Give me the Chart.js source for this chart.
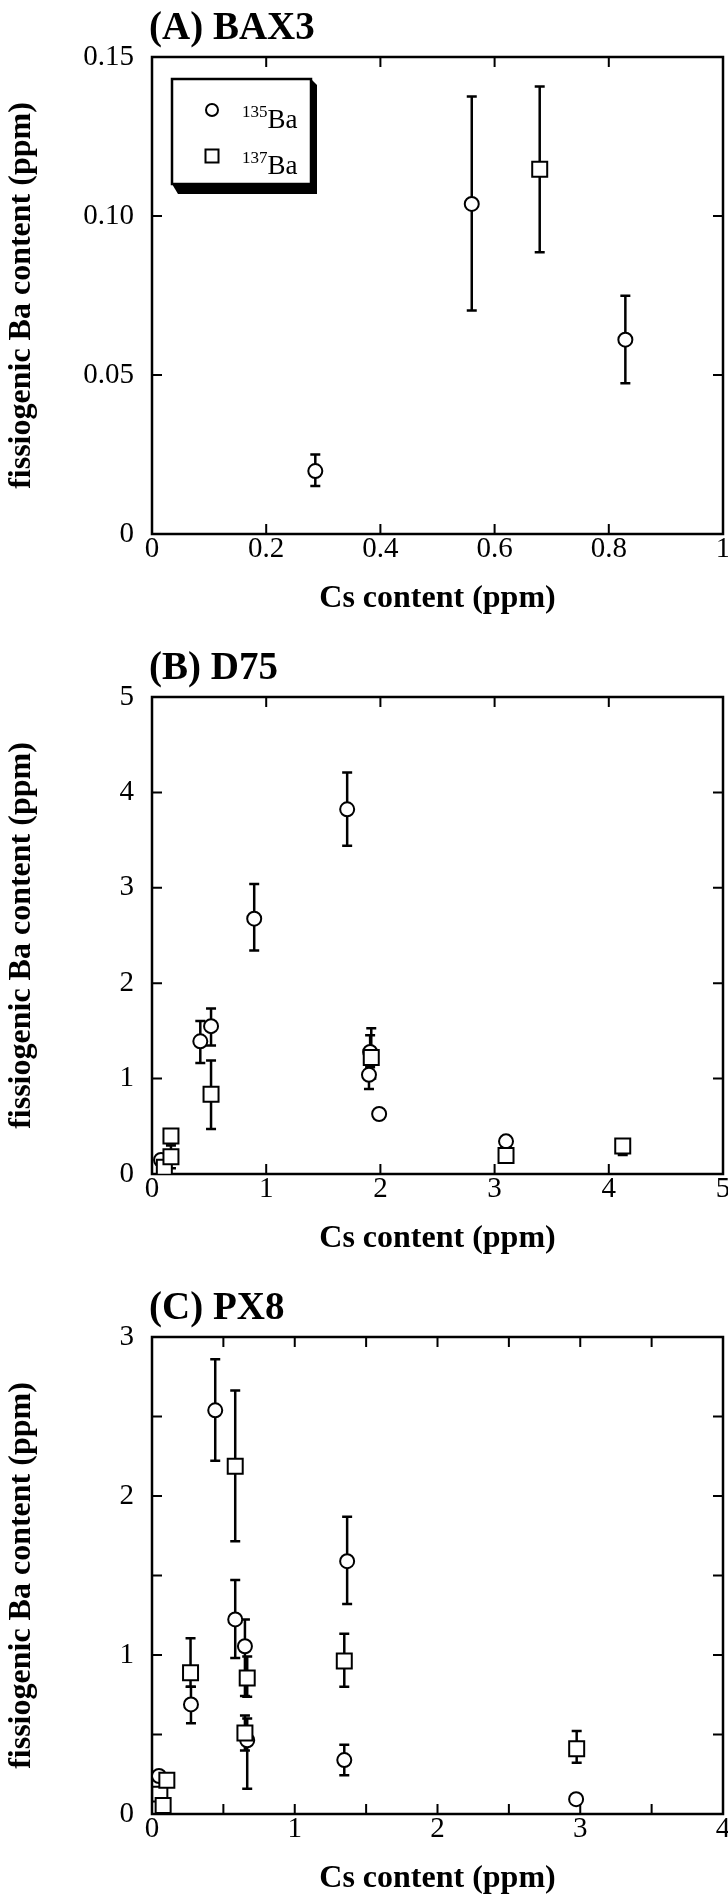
<!DOCTYPE html>
<html>
<head>
<meta charset="utf-8">
<title>fissiogenic Ba vs Cs content</title>
<script src="https://cdn.jsdelivr.net/npm/chart.js@4.4.1/dist/chart.umd.min.js"></script>
<style>
  html, body { margin: 0; padding: 0; background: #fff; overflow: hidden; }
  .panel { position: absolute; left: 0; width: 728px; height: 640px; }
  .panel canvas { display: block; }
</style>
</head>
<body>
<div class="panel" style="top:0px"><canvas id="chartA" width="728" height="640"></canvas></div>
<div class="panel" style="top:640px"><canvas id="chartB" width="728" height="640"></canvas></div>
<div class="panel" style="top:1280px"><canvas id="chartC" width="728" height="640"></canvas></div>
<script>
// ---- (A) BAX3 ----
const bax3Cs135 = [0.286, 0.560, 0.829];
const bax3Ba135 = [0.0198, 0.1038, 0.0611];
const bax3Lo135 = [0.0151, 0.0703, 0.0474];
const bax3Hi135 = [0.0250, 0.1376, 0.0749];
const bax3Cs137 = [0.679];
const bax3Ba137 = [0.1147];
const bax3Lo137 = [0.0886];
const bax3Hi137 = [0.1407];
const bax3XTicks = [0, 0.2, 0.4, 0.6, 0.8, 1];
const bax3XLabels = ['0', '0.2', '0.4', '0.6', '0.8', '1'];
const bax3YTicks = [0, 0.05, 0.10, 0.15];
const bax3YLabels = ['0', '0.05', '0.10', '0.15'];

// ---- (B) D75 ----
const d75Cs135 = [0.079, 0.423, 0.517, 0.895, 1.709, 1.900, 1.910, 1.989, 3.10];
const d75Ba135 = [0.147, 1.391, 1.550, 2.676, 3.823, 1.040, 1.280, 0.629, 0.342];
const d75Lo135 = [null, 1.164, 1.348, 2.342, 3.442, 0.890, 1.120, 0.590, 0.300];
const d75Hi135 = [null, 1.605, 1.734, 3.039, 4.208, 1.180, 1.455, 0.680, 0.380];
const d75Cs137 = [0.108, 0.166, 0.166, 0.517, 1.920, 3.10, 4.122];
const d75Ba137 = [0.070, 0.180, 0.398, 0.835, 1.220, 0.193, 0.293];
const d75Lo137 = [null, 0.060, 0.320, 0.471, 1.000, null, 0.200];
const d75Hi137 = [null, 0.300, 0.470, 1.190, 1.528, null, 0.360];
const d75XTicks = [0, 1, 2, 3, 4, 5];
const d75XLabels = ['0', '1', '2', '3', '4', '5'];
const d75YTicks = [0, 1, 2, 3, 4, 5];
const d75YLabels = ['0', '1', '2', '3', '4', '5'];

// ---- (C) PX8 ----
const px8Cs135 = [0.049, 0.273, 0.443, 0.583, 0.651, 0.667, 1.367, 1.347, 2.971];
const px8Ba135 = [0.239, 0.689, 2.539, 1.224, 1.055, 0.464, 1.590, 0.339, 0.093];
const px8Lo135 = [null, 0.570, 2.221, 0.981, 0.742, 0.159, 1.320, 0.244, null];
const px8Hi135 = [null, 0.800, 2.860, 1.471, 1.224, 0.600, 1.869, 0.435, null];
const px8Cs137 = [0.055, 0.078, 0.104, 0.270, 0.583, 0.667, 0.651, 1.347, 2.975];
const px8Ba137 = [0.125, 0.053, 0.212, 0.888, 2.187, 0.856, 0.509, 0.962, 0.411];
const px8Lo137 = [null, null, null, 0.800, 1.715, 0.737, 0.400, 0.800, 0.323];
const px8Hi137 = [null, null, null, 1.105, 2.664, 0.990, 0.620, 1.134, 0.522];
const px8XTicks = [0, 0.5, 1, 1.5, 2, 2.5, 3, 3.5, 4];
const px8XLabels = ['0', '', '1', '', '2', '', '3', '', '4'];
const px8YTicks = [0, 0.5, 1, 1.5, 2, 2.5, 3];
const px8YLabels = ['0', '', '1', '', '2', '', '3'];

const SERIF = '"Liberation Serif", "Times New Roman", Times, serif';

// frame, inward ticks, error bars, panel title and the boxed legend
const paperPlugin = {
    id: 'paper',
    beforeDatasetsDraw(chart, args, opts) {
        const ctx = chart.ctx;
        const x = chart.scales.x, y = chart.scales.y;
        ctx.save();
        ctx.strokeStyle = '#000';
        ctx.lineWidth = 2.5;
        ctx.lineCap = 'butt';
        chart.data.datasets.forEach(ds => {
            ds.data.forEach((p, i) => {
                const lo = ds.errLo[i], hi = ds.errHi[i];
                if (lo == null || hi == null) return;
                const px = x.getPixelForValue(p.x);
                const py1 = y.getPixelForValue(lo);
                const py2 = y.getPixelForValue(hi);
                ctx.beginPath();
                ctx.moveTo(px, py1); ctx.lineTo(px, py2);
                ctx.moveTo(px - 5, py1); ctx.lineTo(px + 5, py1);
                ctx.moveTo(px - 5, py2); ctx.lineTo(px + 5, py2);
                ctx.stroke();
            });
        });

        // frame + ticks on all four sides
        const a = chart.chartArea;
        ctx.lineWidth = 2.5;
        ctx.strokeRect(a.left, a.top, a.right - a.left, a.bottom - a.top);
        ctx.lineWidth = 2;
        ctx.beginPath();
        x.ticks.forEach(t => {
            if (t.value <= x.min || t.value >= x.max) return;
            const px = x.getPixelForValue(t.value);
            ctx.moveTo(px, a.bottom); ctx.lineTo(px, a.bottom - 10);
            ctx.moveTo(px, a.top); ctx.lineTo(px, a.top + 10);
        });
        y.ticks.forEach(t => {
            if (t.value <= y.min || t.value >= y.max) return;
            const py = y.getPixelForValue(t.value);
            ctx.moveTo(a.left, py); ctx.lineTo(a.left + 10, py);
            ctx.moveTo(a.right, py); ctx.lineTo(a.right - 10, py);
        });
        ctx.stroke();
        ctx.restore();
    },
    afterDraw(chart, args, opts) {
        const ctx = chart.ctx;
        const a = chart.chartArea;
        ctx.save();
        ctx.fillStyle = '#000';
        ctx.textBaseline = 'alphabetic';
        ctx.textAlign = 'left';
        ctx.font = 'bold 39px ' + SERIF;
        ctx.fillText(opts.title, a.left - 3, opts.titleY);

        if (opts.legend) {
            const x0 = a.left + 20, y0 = a.top + 22, x1 = a.left + 159, y1 = a.top + 127;
            // black extruded shadow
            ctx.beginPath();
            ctx.moveTo(x1, y0);
            ctx.lineTo(x1 + 6, y0 + 6);
            ctx.lineTo(x1 + 6, y1 + 10);
            ctx.lineTo(x0 + 6, y1 + 10);
            ctx.lineTo(x0, y1);
            ctx.closePath();
            ctx.fill();
            ctx.fillStyle = '#fff';
            ctx.fillRect(x0, y0, x1 - x0, y1 - y0);
            ctx.strokeStyle = '#000';
            ctx.lineWidth = 2.5;
            ctx.strokeRect(x0, y0, x1 - x0, y1 - y0);

            ctx.lineWidth = 2;
            ctx.fillStyle = '#000';
            opts.legend.forEach((item, i) => {
                const cy = y0 + 31 + i * 46;
                const mx = x0 + 40;
                ctx.beginPath();
                if (item.marker === 'circle') {
                    ctx.arc(mx, cy, 6, 0, Math.PI * 2);
                } else {
                    ctx.rect(mx - 6.5, cy - 6.5, 13, 13);
                }
                ctx.stroke();
                ctx.font = '17px ' + SERIF;
                ctx.fillText(item.sup, x0 + 70, cy + 7);
                const w = ctx.measureText(item.sup).width;
                ctx.font = '27px ' + SERIF;
                ctx.fillText(item.base, x0 + 70 + w, cy + 18);
            });
        }
        ctx.restore();
    }
};

function makePanel(id, cfg) {
    const tickFont = { family: SERIF, size: 29, lineHeight: 1 };
    const titleFont = { family: SERIF, size: 32, weight: 'bold', lineHeight: 1.2 };
    const pts = (xs, ys) => xs.map((v, i) => ({ x: v, y: ys[i] }));

    return new Chart(document.getElementById(id), {
        type: 'scatter',
        data: {
            datasets: [{
                label: '137Ba',
                data: pts(cfg.cs137, cfg.ba137),
                errLo: cfg.lo137,
                errHi: cfg.hi137,
                pointStyle: 'rect',
                pointRadius: 10.6,
                borderWidth: 2,
                borderColor: '#000',
                backgroundColor: '#fff',
                order: 0
            }, {
                label: '135Ba',
                data: pts(cfg.cs135, cfg.ba135),
                errLo: cfg.lo135,
                errHi: cfg.hi135,
                pointStyle: 'circle',
                pointRadius: 7,
                borderWidth: 2,
                borderColor: '#000',
                backgroundColor: '#fff',
                order: 1
            }]
        },
        options: {
            responsive: false,
            animation: false,
            devicePixelRatio: 1,
            events: [],
            layout: { autoPadding: false, padding: { top: 57, right: 5, bottom: 0, left: 0 } },
            plugins: {
                legend: { display: false },
                tooltip: { enabled: false },
                paper: { title: cfg.title, titleY: cfg.titleY, legend: cfg.legend }
            },
            scales: {
                x: {
                    type: 'linear',
                    min: cfg.xTicks[0],
                    max: cfg.xTicks[cfg.xTicks.length - 1],
                    afterBuildTicks: s => { s.ticks = cfg.xTicks.map(v => ({ value: v })); },
                    afterFit: s => { s.height = 106; s.paddingLeft = 0; s.paddingRight = 0; },
                    ticks: {
                        autoSkip: false,
                        maxRotation: 0,
                        padding: 1,
                        color: '#000',
                        font: tickFont,
                        callback: (v, i) => cfg.xLabels[i]
                    },
                    grid: { display: false, drawTicks: false },
                    border: { display: false },
                    title: {
                        display: true,
                        text: 'Cs content (ppm)',
                        color: '#000',
                        font: titleFont,
                        padding: { top: 0, bottom: 22 }
                    }
                },
                y: {
                    type: 'linear',
                    min: cfg.yTicks[0],
                    max: cfg.yTicks[cfg.yTicks.length - 1],
                    afterBuildTicks: s => { s.ticks = cfg.yTicks.map(v => ({ value: v })); },
                    afterFit: s => { s.width = 152; s.paddingTop = 0; s.paddingBottom = 0; },
                    ticks: {
                        autoSkip: false,
                        padding: 18,
                        color: '#000',
                        font: tickFont,
                        callback: (v, i) => cfg.yLabels[i]
                    },
                    grid: { display: false, drawTicks: false },
                    border: { display: false },
                    title: {
                        display: true,
                        text: 'fissiogenic Ba content (ppm)',
                        color: '#000',
                        font: titleFont,
                        padding: { top: 3, bottom: 0 }
                    }
                }
            }
        },
        plugins: [paperPlugin]
    });
}

makePanel('chartA', {
    title: '(A) BAX3', titleY: 39,
    cs135: bax3Cs135, ba135: bax3Ba135, lo135: bax3Lo135, hi135: bax3Hi135,
    cs137: bax3Cs137, ba137: bax3Ba137, lo137: bax3Lo137, hi137: bax3Hi137,
    xTicks: bax3XTicks, xLabels: bax3XLabels, yTicks: bax3YTicks, yLabels: bax3YLabels,
    legend: [
        { marker: 'circle', sup: '135', base: 'Ba' },
        { marker: 'rect', sup: '137', base: 'Ba' }
    ]
});

makePanel('chartB', {
    title: '(B) D75', titleY: 39,
    cs135: d75Cs135, ba135: d75Ba135, lo135: d75Lo135, hi135: d75Hi135,
    cs137: d75Cs137, ba137: d75Ba137, lo137: d75Lo137, hi137: d75Hi137,
    xTicks: d75XTicks, xLabels: d75XLabels, yTicks: d75YTicks, yLabels: d75YLabels,
    legend: null
});

makePanel('chartC', {
    title: '(C) PX8', titleY: 39,
    cs135: px8Cs135, ba135: px8Ba135, lo135: px8Lo135, hi135: px8Hi135,
    cs137: px8Cs137, ba137: px8Ba137, lo137: px8Lo137, hi137: px8Hi137,
    xTicks: px8XTicks, xLabels: px8XLabels, yTicks: px8YTicks, yLabels: px8YLabels,
    legend: null
});
</script>
</body>
</html>
